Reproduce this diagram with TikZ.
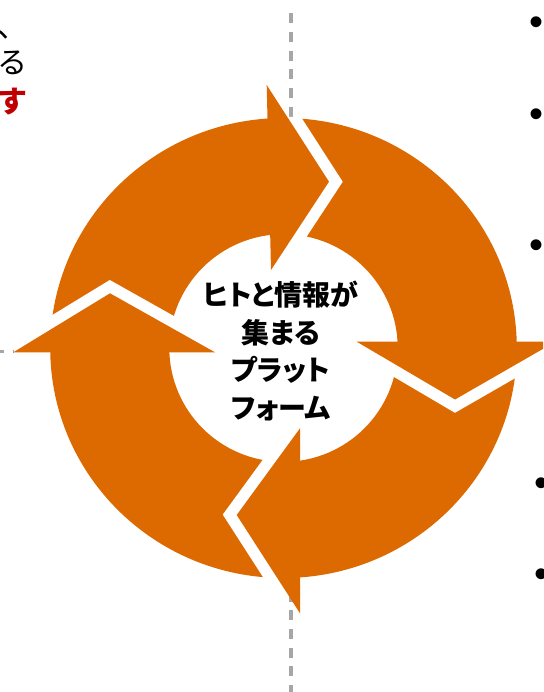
\documentclass[tikz,border=0pt]{standalone}
\usepackage{fontspec}
\newfontfamily\jpfont{Noto Sans CJK JP}
\newfontfamily\jpfontp[RawFeature=+palt]{Noto Sans CJK JP}
\newfontfamily\bulfont{Liberation Sans}
\definecolor{ringorange}{RGB}{221,106,0}
\definecolor{dashgray}{RGB}{166,166,166}
\definecolor{accentred}{RGB}{192,0,0}
\tikzset{
  dashline/.style={draw=dashgray, line width=3.3pt, dash pattern=on 10pt off 8.7pt},
  gapline/.style={draw=white, line width=23pt, line join=miter, miter limit=10},
  headfill/.style={fill=ringorange},
  sidetext/.style={inner sep=0pt, anchor=base east, font=\jpfont\fontsize{30}{30}\selectfont},
  centertext/.style={inner sep=0pt, align=center, font=\jpfontp\bfseries\fontsize{28}{37.7}\selectfont},
  bulletmark/.style={inner sep=0pt, font=\bulfont\fontsize{40}{40}\selectfont}
}
\begin{document}
\begin{tikzpicture}[x=1pt,y=-1pt]
\useasboundingbox (0,0) rectangle (543,692);
\clip (0,0) rectangle (543,692);
% dashed guide lines
\draw[dashline] (291,13.3) -- (291,118);
\draw[dashline] (291,591.5) -- (291,692);
\draw[dashline, dash phase=6pt] (0,351.5) -- (14,351.5);
% ring
\begin{scope}[shift={(283.5,348)}, y=1pt]
  \fill[ringorange, even odd rule] (0,0) ellipse [x radius=233.3, y radius=230]
                                   (0,0) ellipse [x radius=114.2, y radius=113.8];
  % arrowhead corners
  \coordinate (topOut) at (-16.8,263);
  \coordinate (topTip) at (45.5,166.3);
  \coordinate (topIn)  at (-12.5,78);
  \coordinate (rightIn)  at (73.2,6.3);
  \coordinate (rightTip) at (171.5,-51.5);
  \coordinate (rightOut) at (272,6.3);
  \coordinate (botIn)  at (16.5,-80.3);
  \coordinate (botTip) at (-46.8,-167);
  \coordinate (botOut) at (16.5,-265.3);
  \coordinate (leftOut) at (-270.2,-4.3);
  \coordinate (leftTip) at (-173.5,54.7);
  \coordinate (leftIn)  at (-68.5,-4.3);
  % white gaps in front of each arrowhead
  \begin{scope}
    \clip (0,0) ellipse [x radius=234.5, y radius=231.2];
    \draw[gapline] (topOut) -- (topTip) -- (topIn);
    \draw[gapline] (rightIn) -- (rightTip) -- (rightOut);
    \draw[gapline] (botIn) -- (botTip) -- (botOut);
    \draw[gapline] (leftOut) -- (leftTip) -- (leftIn);
  \end{scope}
  % arrowheads
  \fill[headfill] (topOut) -- (topTip) -- (topIn) -- cycle;
  \fill[headfill] (rightIn) -- (rightTip) -- (rightOut) -- cycle;
  \fill[headfill] (botIn) -- (botTip) -- (botOut) -- cycle;
  \fill[headfill] (leftOut) -- (leftTip) -- (leftIn) -- cycle;
\end{scope}
% centre label
\node[centertext] (hub) at (281,351) {ヒトと情報が\\集まる\\プラット\\フォーム};
% cut-off text on the left
\node[sidetext] (tl1) at (27.5,37.5) {、};
\node[sidetext] (tl2) at (27.5,73.5) {る};
\node[sidetext, text=accentred, font=\jpfont\bfseries\fontsize{30}{30}\selectfont] (tl3) at (27.5,112.5) {す};
% cut-off bullets on the right
\node[bulletmark] (b1) at (536.3,25.7) {•};
\node[bulletmark] (b2) at (536.3,118.3) {•};
\node[bulletmark] (b3) at (536.3,249) {•};
\node[bulletmark] (b4) at (541,487) {•};
\node[bulletmark] (b5) at (541,578) {•};
\end{tikzpicture}
\end{document}
